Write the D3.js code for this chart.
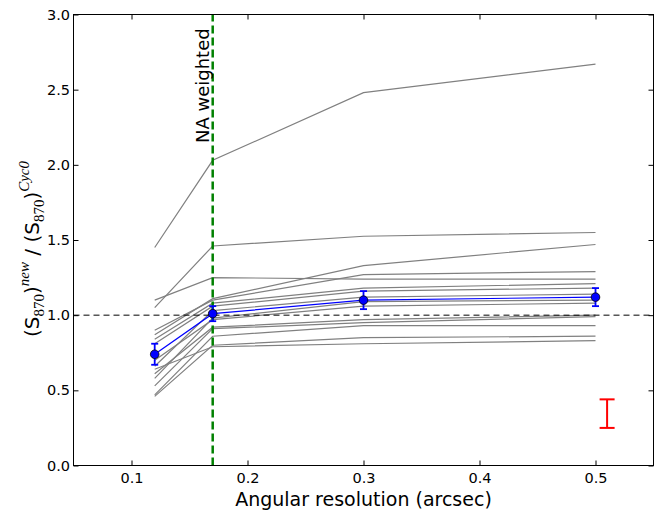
<!DOCTYPE html>
<html><head><meta charset="utf-8">
<script src="https://cdn.jsdelivr.net/npm/d3@7"></script>
<style>body{margin:0;background:#fff}svg{display:block}</style>
</head><body><svg id="c" width="660" height="510"></svg>
<script>
// ---- data ----
const resolutions = [0.12, 0.17, 0.3, 0.5];
const sourceRatios = [
  [1.45, 2.03, 2.48, 2.67],
  [1.05, 1.46, 1.525, 1.55],
  [1.10, 1.25, 1.24, 1.24],
  [0.87, 1.11, 1.33, 1.47],
  [0.90, 1.10, 1.27, 1.29],
  [0.84, 1.08, 1.18, 1.21],
  [0.81, 1.06, 1.16, 1.18],
  [0.66, 1.03, 1.12, 1.14],
  [0.58, 0.98, 1.09, 1.10],
  [0.70, 0.97, 1.06, 1.08],
  [0.61, 0.92, 0.97, 1.00],
  [0.53, 0.91, 0.95, 0.99],
  [0.47, 0.86, 0.93, 0.93],
  [0.46, 0.80, 0.85, 0.86],
  [0.64, 0.79, 0.81, 0.83]
];
const meanRatio = [0.74, 1.01, 1.10, 1.12];
const meanErr = [0.07, 0.05, 0.06, 0.06];
const naWeightedRes = 0.17;
const typicalErrX = [0.51];
const typicalErrY = [0.345];
const typicalErrHalf = [0.095];
const xTicks = [0.1, 0.2, 0.3, 0.4, 0.5];
const yTicks = [0.0, 0.5, 1.0, 1.5, 2.0, 2.5, 3.0];

// ---- layout ----
const L = 73.5, R = 653.5, T = 14.5, B = 465.5;
const svg = d3.select("#c");
const x = d3.scaleLinear().domain([0.05, 0.55]).range([L, R]);
const y = d3.scaleLinear().domain([0, 3]).range([B, T]);
const FONT = "DejaVu Sans, sans-serif";

const line = d3.line().x((d, i) => x(resolutions[i])).y(d => y(d));

// gray individual lines
svg.append("g").selectAll("path").data(sourceRatios).join("path")
  .attr("d", line).attr("fill", "none").attr("stroke", "#808080").attr("stroke-width", 1.2);

// unity dashed line
svg.append("line").attr("x1", x(0.05)).attr("x2", x(0.55)).attr("y1", y(1)).attr("y2", y(1))
  .attr("stroke", "#000").attr("stroke-width", 1).attr("stroke-dasharray", "6,4");

// green NA weighted line
svg.append("line").attr("x1", x(naWeightedRes)).attr("x2", x(naWeightedRes)).attr("y1", y(0)).attr("y2", y(3))
  .attr("stroke", "#008000").attr("stroke-width", 2.5).attr("stroke-dasharray", "8,4");

svg.append("text").attr("transform", `translate(${x(naWeightedRes) - 3.5},${y(2.145)}) rotate(-90)`)
  .attr("font-family", FONT).attr("font-size", 18).attr("fill", "#000").text("NA weighted");

// blue mean line
svg.append("path").attr("d", line(meanRatio)).attr("fill", "none").attr("stroke", "#0000ff").attr("stroke-width", 1.2);
const eb = svg.append("g").attr("stroke", "#0000ff").attr("stroke-width", 1.8);
meanRatio.forEach((v, i) => {
  const cx = x(resolutions[i]);
  eb.append("line").attr("x1", cx).attr("x2", cx).attr("y1", y(v - meanErr[i])).attr("y2", y(v + meanErr[i]));
  [v - meanErr[i], v + meanErr[i]].forEach(e => eb.append("line").attr("x1", cx - 3.5).attr("x2", cx + 3.5).attr("y1", y(e)).attr("y2", y(e)));
});
svg.append("g").selectAll("circle").data(meanRatio).join("circle")
  .attr("cx", (d, i) => x(resolutions[i])).attr("cy", d => y(d)).attr("r", 4.3)
  .attr("fill", "#0000ff").attr("stroke", "#000").attr("stroke-width", 0.8);

// red typical error bar
const rg = svg.append("g").attr("stroke", "#ff0000").attr("stroke-width", 2);
typicalErrX.forEach((xv, i) => {
  const cx = x(xv), lo = typicalErrY[i] - typicalErrHalf[i], hi = typicalErrY[i] + typicalErrHalf[i];
  rg.append("line").attr("x1", cx).attr("x2", cx).attr("y1", y(lo)).attr("y2", y(hi));
  [lo, hi].forEach(e => rg.append("line").attr("x1", cx - 7.5).attr("x2", cx + 7.5).attr("y1", y(e)).attr("y2", y(e)));
});

// axes
const fmt = d3.format(".1f");
function styleAxis(g) {
  g.select(".domain").remove();
  g.selectAll("line").attr("stroke", "#000").attr("stroke-width", 1);
  g.selectAll("text").attr("font-family", FONT).attr("font-size", 14.5).attr("fill", "#000");
}
svg.append("g").attr("transform", `translate(0,${B})`)
  .call(d3.axisBottom(x).tickValues(xTicks).tickFormat(fmt).tickSizeInner(-5).tickSizeOuter(0).tickPadding(7.7))
  .call(styleAxis);
svg.append("g").attr("transform", `translate(0,${T})`)
  .call(d3.axisTop(x).tickValues(xTicks).tickFormat("").tickSizeInner(-5).tickSizeOuter(0))
  .call(styleAxis);
svg.append("g").attr("transform", `translate(${L},0)`)
  .call(d3.axisLeft(y).tickValues(yTicks).tickFormat(fmt).tickSizeInner(-5).tickSizeOuter(0).tickPadding(3.5))
  .call(styleAxis);
svg.append("g").attr("transform", `translate(${R},0)`)
  .call(d3.axisRight(y).tickValues(yTicks).tickFormat("").tickSizeInner(-5).tickSizeOuter(0))
  .call(styleAxis);

svg.append("rect").attr("x", L).attr("y", T).attr("width", R - L).attr("height", B - T)
  .attr("fill", "none").attr("stroke", "#000").attr("stroke-width", 1);

// axis labels
svg.append("text").attr("x", (L + R) / 2).attr("y", 506).attr("text-anchor", "middle")
  .attr("font-family", FONT).attr("font-size", 19).attr("fill", "#000").text("Angular resolution (arcsec)");

const yl = svg.append("text").attr("transform", `translate(39,249) rotate(-90)`)
  .attr("text-anchor", "middle").attr("font-family", FONT).attr("font-size", 20).attr("fill", "#000");
const SERIF = "Liberation Serif, DejaVu Serif, serif";
yl.append("tspan").text("(S");
yl.append("tspan").attr("font-family", SERIF).attr("font-size", 15).attr("dy", 4.5).text("870");
yl.append("tspan").attr("dy", -4.5).text(")");
yl.append("tspan").attr("font-family", SERIF).attr("font-style", "italic").attr("font-size", 15).attr("dy", -10).text("new");
yl.append("tspan").attr("dy", 10).text("  / (S");
yl.append("tspan").attr("font-family", SERIF).attr("font-size", 15).attr("dy", 4.5).text("870");
yl.append("tspan").attr("dy", -4.5).text(")");
yl.append("tspan").attr("font-family", SERIF).attr("font-style", "italic").attr("font-size", 15).attr("dy", -10).text("Cyc0");
</script></body></html>
